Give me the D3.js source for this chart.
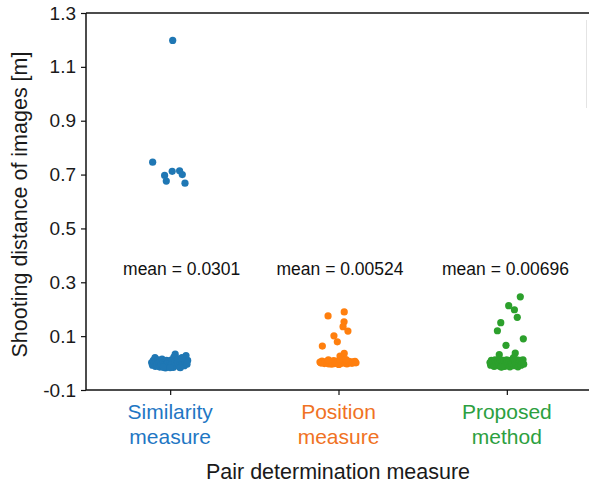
<!DOCTYPE html>
<html>
<head>
<meta charset="utf-8">
<script src="https://cdn.jsdelivr.net/npm/d3@7"></script>
<style>
  body { margin: 0; background: #fff; }
  svg { display: block; font-family: "Liberation Sans", Arial, sans-serif; }
</style>
</head>
<body>
<div id="chart"></div>
<script>
// Categories and their colours
const categories = ['Similarity measure', 'Position measure', 'Proposed method'];
const categoryLines = [['Similarity', 'measure'], ['Position', 'measure'], ['Proposed', 'method']];
const colors = ['#1f77b4', '#ff7f0e', '#2ca02c'];
const labelColors = ['#1f77c4', '#f07224', '#2ca040'];
const meanLabels = ['mean = 0.0301', 'mean = 0.00524', 'mean = 0.00696'];
const yTicks = [-0.1, 0.1, 0.3, 0.5, 0.7, 0.9, 1.1, 1.3];

// Each point: [jitter (fraction of category step), value in m]
const similarityPoints = [
  [-0.104, 0.746], [0.015, 1.198], [0.012, 0.712], [0.056, 0.714],
  [0.072, 0.700], [-0.033, 0.697], [-0.023, 0.676], [0.088, 0.668],
  [-0.110, 0.002], [-0.105, -0.008], [-0.100, 0.010], [-0.095, -0.003],
  [-0.090, 0.020], [-0.088, -0.012], [-0.082, 0.006], [-0.078, -0.006],
  [-0.072, 0.012], [-0.068, 0.000], [-0.062, -0.015], [-0.058, 0.008],
  [-0.052, -0.004], [-0.048, 0.015], [-0.042, 0.002], [-0.038, -0.010],
  [-0.032, 0.006], [-0.028, -0.018], [-0.022, 0.010], [-0.018, -0.002],
  [-0.012, 0.004], [-0.008, -0.012], [-0.002, 0.008], [0.004, -0.006],
  [0.008, 0.012], [0.012, 0.000], [0.018, -0.016], [0.022, 0.022],
  [0.026, 0.005], [0.030, 0.033], [0.034, -0.008], [0.040, 0.010],
  [0.044, -0.002], [0.048, 0.016], [0.054, -0.014], [0.058, 0.004],
  [0.064, 0.010], [0.068, -0.006], [0.074, 0.000], [0.080, 0.014],
  [0.084, -0.010], [0.090, 0.006], [0.094, 0.028], [0.100, -0.004],
  [0.104, 0.010], [0.070, 0.020], [-0.040, -0.016], [0.000, -0.017],
  [0.060, -0.017]
];

const positionPoints = [
  [-0.062, 0.175], [0.034, 0.190], [0.033, 0.153], [0.027, 0.135],
  [0.056, 0.119], [-0.027, 0.101], [-0.007, 0.079], [-0.096, 0.063],
  [0.034, 0.036], [0.009, 0.026],
  [-0.110, 0.004], [-0.104, 0.000], [-0.098, 0.007], [-0.090, 0.002],
  [-0.084, -0.002], [-0.078, 0.005], [-0.070, 0.001], [-0.064, 0.008],
  [-0.058, -0.003], [-0.052, 0.003], [-0.046, 0.006], [-0.040, -0.004],
  [-0.034, 0.002], [-0.028, 0.009], [-0.022, -0.002], [-0.016, 0.004],
  [-0.010, 0.000], [-0.004, 0.007], [0.002, -0.005], [0.008, 0.003],
  [0.014, 0.006], [0.020, -0.001], [0.026, 0.004], [0.032, 0.008],
  [0.038, 0.000], [0.044, 0.005], [0.050, -0.003], [0.056, 0.002],
  [0.062, 0.006], [0.068, 0.001], [0.074, 0.004], [0.080, -0.001],
  [0.086, 0.005], [0.092, 0.002], [0.098, 0.006], [0.104, 0.001],
  [-0.060, 0.012], [0.010, 0.014], [0.045, 0.013]
];

const proposedPoints = [
  [0.080, 0.246], [0.011, 0.213], [0.045, 0.198], [0.062, 0.170],
  [-0.036, 0.150], [-0.056, 0.120], [0.098, 0.090], [-0.005, 0.066],
  [0.050, 0.037], [-0.045, 0.031],
  [-0.100, 0.002], [-0.096, -0.008], [-0.092, 0.010], [-0.086, -0.004],
  [-0.080, 0.006], [-0.076, -0.012], [-0.070, 0.012], [-0.064, 0.000],
  [-0.060, -0.010], [-0.054, 0.008], [-0.048, -0.004], [-0.042, 0.014],
  [-0.036, -0.014], [-0.030, 0.004], [-0.024, -0.006], [-0.018, 0.010],
  [-0.012, -0.012], [-0.006, 0.002], [0.000, 0.012], [0.006, -0.008],
  [0.012, 0.006], [0.018, -0.014], [0.024, 0.010], [0.030, -0.002],
  [0.036, 0.016], [0.042, -0.010], [0.048, 0.006], [0.054, -0.006],
  [0.060, 0.012], [0.066, -0.014], [0.072, 0.002], [0.078, 0.010],
  [0.084, -0.008], [0.090, 0.004], [0.096, 0.012], [0.100, -0.004],
  [-0.030, -0.015], [0.040, 0.020]
];

const series = [similarityPoints, positionPoints, proposedPoints];

// Layout
const width = 589;
const height = 486;
const plot = { left: 86, top: 13, right: 591, bottom: 390 };
const meanLabelX = [181.7, 340, 505.5];

const svg = d3.select('#chart')
  .append('svg')
  .attr('width', width)
  .attr('height', height);

const xScale = d3.scalePoint()
  .domain(categories)
  .range([plot.left, plot.right])
  .padding(0.5);

const yScale = d3.scaleLinear()
  .domain([-0.1, 1.3])
  .range([plot.bottom, plot.top]);

// Top spine
svg.append('line')
  .attr('x1', plot.left).attr('x2', width)
  .attr('y1', plot.top).attr('y2', plot.top)
  .attr('stroke', '#111').attr('stroke-width', 1.5);

// faint edge line at the right
svg.append('line')
  .attr('x1', 586.5).attr('x2', 586.5)
  .attr('y1', 20).attr('y2', 108)
  .attr('stroke', '#e4e4e4').attr('stroke-width', 1);

// Y axis
const yAxis = svg.append('g')
  .attr('transform', `translate(${plot.left},0)`)
  .call(d3.axisLeft(yScale)
    .tickValues(yTicks)
    .tickSize(5)
    .tickPadding(5)
    .tickFormat(d => (d < 0 ? '-' : '') + Math.abs(d).toFixed(1)));
yAxis.select('.domain').attr('stroke', '#111').attr('stroke-width', 1.5)
  .attr('d', `M0,${plot.top}V${plot.bottom}`);
yAxis.selectAll('.tick line').attr('stroke', '#111').attr('stroke-width', 1.2);
yAxis.selectAll('.tick text')
  .attr('fill', '#1a1a1a')
  .style('font-size', '19px')
  .style('font-family', '"Liberation Sans", Arial, sans-serif');

// X axis
const xAxis = svg.append('g')
  .attr('transform', `translate(0,${plot.bottom})`)
  .call(d3.axisBottom(xScale).tickSize(5).tickFormat(''));
xAxis.select('.domain').attr('stroke', '#111').attr('stroke-width', 1.5)
  .attr('d', `M${plot.left},0H${width}`);
xAxis.selectAll('.tick line').attr('stroke', '#111').attr('stroke-width', 1.2);

// Category labels (two lines, coloured)
categories.forEach((c, i) => {
  const t = svg.append('text')
    .attr('x', xScale(c))
    .attr('y', 419)
    .attr('text-anchor', 'middle')
    .attr('fill', labelColors[i])
    .style('font-size', '21px');
  categoryLines[i].forEach((line, j) => {
    t.append('tspan')
      .attr('x', xScale(c))
      .attr('dy', j === 0 ? 0 : 25)
      .text(line);
  });
});

// Axis titles
svg.append('text')
  .attr('x', 338)
  .attr('y', 479)
  .attr('text-anchor', 'middle')
  .attr('fill', '#1a1a1a')
  .style('font-size', '21.5px')
  .text('Pair determination measure');

svg.append('text')
  .attr('transform', `translate(27,${(49 + 360) / 2}) rotate(-90)`)
  .attr('text-anchor', 'middle')
  .attr('fill', '#1a1a1a')
  .style('font-size', '21.5px')
  .text('Shooting distance of images [m]');

// Mean labels
meanLabels.forEach((m, i) => {
  svg.append('text')
    .attr('x', meanLabelX[i])
    .attr('y', 275)
    .attr('text-anchor', 'middle')
    .attr('fill', '#111')
    .style('font-size', '17.5px')
    .text(m);
});

// Dots
const step = xScale.step();
series.forEach((pts, i) => {
  svg.append('g')
    .selectAll('circle')
    .data(pts)
    .join('circle')
    .attr('cx', d => xScale(categories[i]) + d[0] * step)
    .attr('cy', d => yScale(d[1]))
    .attr('r', 3.6)
    .attr('fill', colors[i]);
});
</script>
</body>
</html>
